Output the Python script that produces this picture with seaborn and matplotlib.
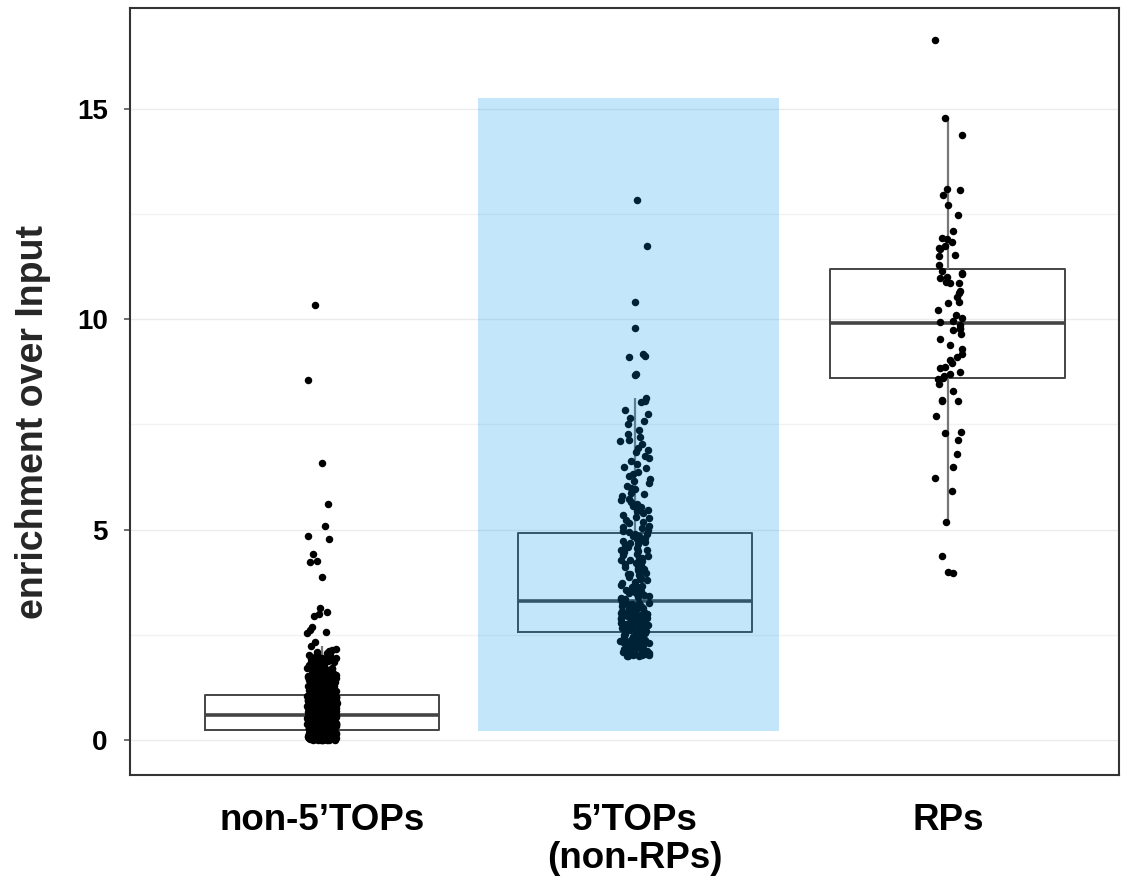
import numpy as np
import pandas as pd
import matplotlib
matplotlib.use("Agg")
import matplotlib.pyplot as plt
from matplotlib.patches import Rectangle
from matplotlib.ticker import MultipleLocator
import seaborn as sns

# categories / labels
groups = ["non-5'TOPs", "5'TOPs", "RPs"]
tick_labels = ["non-5\u2019TOPs", "5\u2019TOPs\n(non-RPs)", "RPs"]

# enrichment over Input
non_top = [
    # 0 - 0.24
    0.01, 0.02, 0.02, 0.03, 0.04, 0.04, 0.05, 0.06, 0.06, 0.07,
    0.08, 0.08, 0.09, 0.10, 0.10, 0.11, 0.11, 0.12, 0.12, 0.13,
    0.13, 0.14, 0.14, 0.15, 0.15, 0.15, 0.16, 0.16, 0.17, 0.17,
    0.17, 0.18, 0.18, 0.18, 0.19, 0.19, 0.19, 0.20, 0.20, 0.20,
    0.21, 0.21, 0.21, 0.22, 0.22, 0.22, 0.22, 0.23, 0.23, 0.23,
    0.23, 0.00, 0.01, 0.03, 0.05, 0.07, 0.09, 0.11, 0.13, 0.16,
    0.00, 0.01, 0.02, 0.03, 0.03, 0.04, 0.05, 0.05, 0.06, 0.07,
    0.07, 0.08, 0.09, 0.09, 0.10, 0.11, 0.12, 0.12, 0.13, 0.14,
    0.14, 0.15, 0.16, 0.16, 0.17, 0.18, 0.18, 0.19, 0.19, 0.20,
    0.20, 0.21, 0.21, 0.22, 0.22, 0.23, 0.23, 0.02, 0.04, 0.06,
    0.08, 0.10, 0.12, 0.14, 0.17, 0.19, 0.21, 0.23, 0.05, 0.15,
    0.00, 0.02, 0.03, 0.05, 0.06, 0.08, 0.09, 0.11, 0.12, 0.14,
    0.15, 0.17, 0.18, 0.20, 0.21, 0.23, 0.01, 0.04, 0.07, 0.10,
    0.13, 0.16, 0.19, 0.22, 0.03, 0.06, 0.09, 0.12, 0.15, 0.18,
    0.21, 0.24, 0.01, 0.08, 0.14, 0.20, 0.05, 0.11, 0.17, 0.23,
    # 0.24 - 0.6
    0.25, 0.27, 0.27, 0.29, 0.30, 0.31, 0.33, 0.34, 0.34, 0.36,
    0.37, 0.38, 0.38, 0.40, 0.41, 0.42, 0.43, 0.43, 0.45, 0.46,
    0.47, 0.47, 0.48, 0.49, 0.50, 0.51, 0.52, 0.52, 0.53, 0.54,
    0.55, 0.55, 0.56, 0.57, 0.57, 0.58, 0.59, 0.59, 0.26, 0.28,
    0.32, 0.35, 0.39, 0.41, 0.44, 0.46, 0.49, 0.51, 0.53, 0.56,
    0.58, 0.29, 0.36, 0.42, 0.48, 0.54, 0.31, 0.45, 0.50, 0.57,
    0.24, 0.26, 0.28, 0.30, 0.32, 0.33, 0.35, 0.37, 0.39, 0.40,
    0.42, 0.44, 0.45, 0.47, 0.48, 0.50, 0.52, 0.53, 0.55, 0.56,
    0.58, 0.59, 0.25, 0.27, 0.29, 0.31, 0.34, 0.36, 0.38, 0.41,
    0.43, 0.46, 0.49, 0.51, 0.54, 0.57, 0.59, 0.28, 0.33, 0.37,
    0.40, 0.44, 0.47, 0.50, 0.53, 0.56, 0.30, 0.39, 0.48, 0.55,
    0.25, 0.28, 0.30, 0.33, 0.35, 0.38, 0.40, 0.43, 0.45, 0.48,
    0.50, 0.53, 0.55, 0.58, 0.26, 0.29, 0.32, 0.36, 0.39, 0.42,
    0.46, 0.49, 0.52, 0.56, 0.59, 0.27, 0.31, 0.34, 0.37, 0.41,
    0.44, 0.47, 0.51, 0.54, 0.57, 0.30, 0.38, 0.45, 0.52, 0.58,
    # 0.6 - 1.07
    0.61, 0.62, 0.64, 0.65, 0.66, 0.68, 0.69, 0.70, 0.72, 0.73,
    0.74, 0.76, 0.77, 0.78, 0.80, 0.81, 0.82, 0.84, 0.85, 0.86,
    0.88, 0.89, 0.90, 0.92, 0.93, 0.94, 0.96, 0.97, 0.98, 1.00,
    1.01, 1.02, 1.04, 1.05, 1.06, 0.63, 0.67, 0.71, 0.75, 0.79,
    0.83, 0.87, 0.91, 0.95, 0.99, 1.03, 0.64, 0.70, 0.78, 0.86,
    0.94, 1.02, 0.66, 0.74, 0.82, 0.90, 0.98, 1.06, 0.72, 0.88,
    0.60, 0.62, 0.63, 0.65, 0.67, 0.68, 0.70, 0.71, 0.73, 0.75,
    0.76, 0.78, 0.79, 0.81, 0.83, 0.84, 0.86, 0.87, 0.89, 0.91,
    0.92, 0.94, 0.95, 0.97, 0.99, 1.00, 1.02, 1.03, 1.05, 1.06,
    0.61, 0.64, 0.69, 0.72, 0.77, 0.80, 0.85, 0.89, 0.93, 0.96,
    1.01, 1.04, 0.66, 0.74, 0.82, 0.90, 0.98, 0.63, 0.79, 0.95,
    0.61, 0.64, 0.67, 0.70, 0.73, 0.76, 0.79, 0.82, 0.85, 0.88,
    0.91, 0.94, 0.97, 1.00, 1.03, 1.06, 0.62, 0.66, 0.69, 0.72,
    0.75, 0.78, 0.81, 0.84, 0.87, 0.90, 0.93, 0.96, 0.99, 1.02,
    1.05, 0.65, 0.71, 0.77, 0.83, 0.89, 0.95, 1.01, 0.68, 0.80,
    # upper tail
    1.08, 1.10, 1.12, 1.14, 1.16, 1.18, 1.20, 1.23, 1.25, 1.27,
    1.30, 1.32, 1.35, 1.37, 1.40, 1.43, 1.46, 1.49, 1.52, 1.55,
    1.58, 1.62, 1.65, 1.69, 1.72, 1.76, 1.80, 1.84, 1.88, 1.92,
    1.96, 2.00, 2.05, 2.10, 2.15, 1.11, 1.24, 1.38, 1.53, 1.70,
    1.07, 1.09, 1.11, 1.13, 1.15, 1.17, 1.19, 1.21, 1.22, 1.24,
    1.26, 1.28, 1.29, 1.31, 1.33, 1.36, 1.38, 1.41, 1.44, 1.47,
    1.50, 1.54, 1.57, 1.60, 1.63, 1.67, 1.71, 1.74, 1.78, 1.82,
    1.86, 1.90, 1.94, 1.98, 2.03, 2.08, 1.09, 1.16, 1.22, 1.30,
    1.34, 1.42, 1.48, 1.56, 1.64, 1.75, 1.85, 1.95, 2.12, 2.18,
    1.08, 1.12, 1.15, 1.19, 1.23, 1.26, 1.30, 1.34, 1.39, 1.43,
    1.47, 1.51, 1.56, 1.61, 1.66, 1.71, 1.77, 1.83, 1.89, 1.96,
    1.10, 1.14, 1.18, 1.21, 1.27, 1.32, 1.36, 1.41, 1.45, 1.50,
    1.58, 1.68, 1.79, 1.93, 2.02, 1.13, 1.25, 1.37, 1.62, 1.87,
    2.25, 2.33, 2.55, 2.57, 2.62, 2.69, 2.95, 3.00, 3.05, 3.13,
    3.87, 4.24, 4.26, 4.43, 4.77, 4.85, 5.09, 5.62, 6.59, 8.55, 10.33,
]

top_nonrp = [
    # 2.0 - 2.57
    2.00, 2.01, 2.02, 2.03, 2.04, 2.05, 2.06, 2.07, 2.08, 2.09,
    2.10, 2.11, 2.12, 2.14, 2.15, 2.16, 2.18, 2.19, 2.20, 2.22,
    2.23, 2.25, 2.26, 2.28, 2.29, 2.31, 2.33, 2.34, 2.36, 2.38,
    2.40, 2.42, 2.44, 2.46, 2.48, 2.50, 2.52, 2.54, 2.56, 2.03,
    2.06, 2.09, 2.13, 2.17, 2.21, 2.27, 2.32, 2.39, 2.45, 2.53,
    2.00, 2.02, 2.04, 2.05, 2.07, 2.08, 2.10, 2.12, 2.15, 2.18,
    2.24, 2.30, 2.37, 2.43, 2.51,
    # 2.57 - 3.3
    2.58, 2.60, 2.62, 2.64, 2.66, 2.68, 2.70, 2.72, 2.74, 2.76,
    2.78, 2.80, 2.82, 2.84, 2.86, 2.88, 2.90, 2.92, 2.94, 2.96,
    2.98, 3.00, 3.02, 3.04, 3.06, 3.08, 3.10, 3.12, 3.14, 3.16,
    3.18, 3.20, 3.22, 3.24, 3.26, 3.28, 2.61, 2.67, 2.73, 2.79,
    2.85, 2.91, 2.97, 3.03, 3.09, 3.15, 3.21, 3.27, 2.69, 2.99,
    2.59, 2.63, 2.71, 2.77, 2.83, 2.89, 2.95, 3.01, 3.07, 3.13,
    3.19, 3.25, 2.65, 2.81, 3.11,
    # 3.3 - 4.92
    3.33, 3.36, 3.40, 3.43, 3.47, 3.50, 3.54, 3.58, 3.61, 3.65,
    3.69, 3.72, 3.76, 3.80, 3.84, 3.88, 3.92, 3.96, 4.00, 4.04,
    4.08, 4.12, 4.16, 4.20, 4.25, 4.29, 4.33, 4.38, 4.42, 4.47,
    4.51, 4.56, 4.60, 4.65, 4.70, 4.74, 4.79, 4.84, 4.89, 3.38,
    3.52, 3.67, 3.82, 3.98, 4.14, 4.31, 4.49, 4.63, 4.81, 4.91,
    3.35, 3.45, 3.56, 3.63, 3.74, 3.86, 3.94, 4.06, 4.18, 4.27,
    4.40, 4.53, 4.68, 4.77, 4.86,
    # above Q3
    4.95, 5.00, 5.05, 5.10, 5.16, 5.22, 5.28, 5.34, 5.40, 5.47,
    5.54, 5.60, 5.67, 5.74, 5.81, 5.88, 5.96, 6.04, 6.12, 6.20,
    6.28, 6.37, 6.46, 6.55, 6.64, 6.74, 6.84, 6.94, 7.04, 7.14,
    7.20, 7.27, 7.36, 7.50, 7.58, 7.65, 7.76, 7.84, 8.03, 8.05,
    8.12, 8.67, 8.71, 9.10, 9.12, 9.18, 9.78, 10.40, 11.74, 12.84,
    4.97, 5.07, 5.19, 5.31, 5.44, 5.57, 5.70, 5.85, 6.00, 6.16,
    6.33, 6.50, 6.70, 6.90, 7.10,
]

rps = [
    16.63, 14.77, 14.37, 13.09, 13.07, 12.96, 12.72, 12.47, 12.09, 11.92,
    11.90, 11.84, 11.73, 11.69, 11.67, 11.52, 11.50, 11.28,
    11.15, 11.10, 11.08, 11.00, 10.98, 10.89, 10.87, 10.85, 10.67, 10.63,
    10.53, 10.41, 10.39, 10.21, 10.09, 10.02, 9.96, 9.94,
    9.86, 9.78, 9.76, 9.74, 9.64, 9.52, 9.38, 9.30, 9.18, 9.10,
    9.03, 8.95, 8.87, 8.83, 8.75, 8.70, 8.65, 8.61,
    8.59, 8.47, 8.30, 8.08, 8.06, 8.05, 7.70, 7.32, 7.30, 7.13,
    6.81, 6.48, 6.23, 5.93, 5.19, 4.38, 4.00, 3.98,
]

# highlighted region behind the middle group (x from/to in category units, y from/to)
highlight_x = (0.5, 1.46)
highlight_y = (0.21, 15.25)

df = pd.concat([
    pd.DataFrame({"group": groups[0], "value": non_top}),
    pd.DataFrame({"group": groups[1], "value": top_nonrp}),
    pd.DataFrame({"group": groups[2], "value": rps}),
], ignore_index=True)

sns.set_theme(style="white")
plt.rcParams['font.family'] = ['Liberation Sans', 'DejaVu Sans']
plt.rcParams['font.weight'] = 'bold'

fig = plt.figure(figsize=(11.21, 8.84), dpi=100)
ax = fig.add_axes([0.116, 0.123, 0.882, 0.868])

# light grid like the original
ax.yaxis.set_major_locator(MultipleLocator(5))
ax.yaxis.set_minor_locator(MultipleLocator(2.5))
ax.grid(True, which='major', axis='both', color='#ebebeb', lw=1.0, zorder=0)
ax.grid(True, which='minor', axis='y', color='#f2f2f2', lw=1.0, zorder=0)
ax.set_axisbelow(True)

sns.boxplot(data=df, x="group", y="value", order=groups, ax=ax,
            width=0.75, fill=False, showfliers=False, showcaps=False,
            whis=1.5, linecolor='#444444', linewidth=1.4,
            boxprops=dict(color='#444444', linewidth=1.4),
            whiskerprops=dict(color='#777777', linewidth=1.6),
            medianprops=dict(color='#444444', linewidth=2.6))

np.random.seed(3)
sns.stripplot(data=df, x="group", y="value", order=groups, ax=ax,
              jitter=0.047, size=5.4, color='black', linewidth=0, zorder=3)

ax.add_patch(Rectangle((highlight_x[0], highlight_y[0]),
                       highlight_x[1] - highlight_x[0],
                       highlight_y[1] - highlight_y[0],
                       facecolor='#0396ed', alpha=0.23, lw=0, zorder=6))

ax.set_xlim(-0.613, 2.546)
ax.set_ylim(-0.83, 17.39)
ax.set_xticks(range(3))
ax.set_xticklabels(tick_labels, fontsize=26.5, fontweight='bold', linespacing=1.1)
ax.set_yticks([0, 5, 10, 15])
ax.set_yticklabels(['0', '5', '10', '15'], fontsize=20, fontweight='bold')
ax.tick_params(axis='x', length=0, pad=20, colors='black')
ax.tick_params(axis='y', which='major', length=4, width=1.2, color='#555555',
               pad=12, labelcolor='black', left=True)
ax.tick_params(axis='y', which='minor', length=0)
ax.set_xlabel('')
ax.set_ylabel('enrichment over Input', fontsize=27, fontweight='bold')
ax.yaxis.set_label_coords(-0.080, 0.46)

for sp in ax.spines.values():
    sp.set_visible(True)
    sp.set_color('#333333')
    sp.set_linewidth(1.5)

fig.savefig('out.png', dpi=100)
